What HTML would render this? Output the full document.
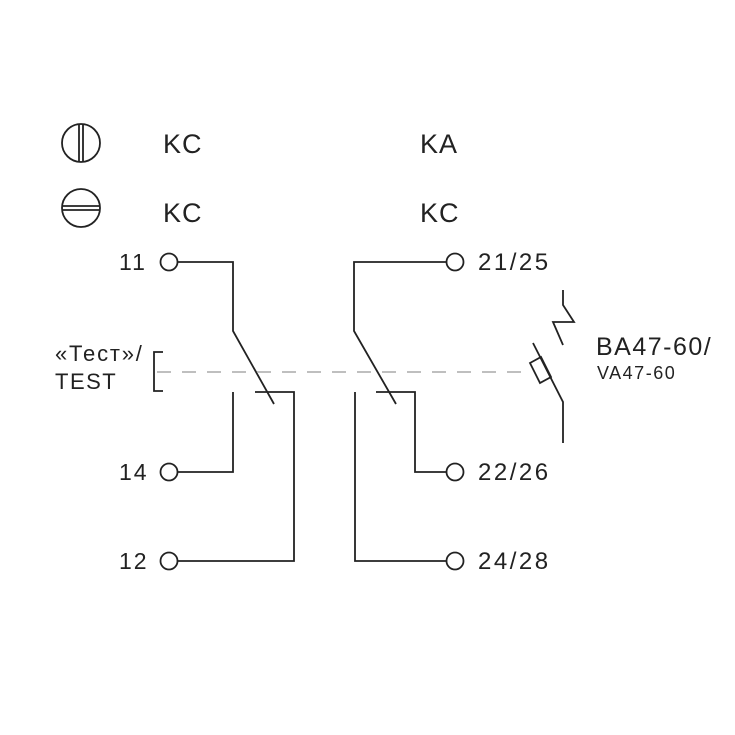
<!DOCTYPE html>
<html><head><meta charset="utf-8"><style>
html,body{margin:0;padding:0;background:#fff;}
svg{display:block;}
text{font-family:"Liberation Sans",sans-serif;fill:#222;}
</style></head><body>
<svg width="735" height="735" viewBox="0 0 735 735" xmlns="http://www.w3.org/2000/svg">
<g fill="none" stroke="#222" stroke-width="1.8">
<circle cx="81" cy="143" r="19"/>
<line x1="79" y1="124" x2="79" y2="162"/><line x1="83" y1="124" x2="83" y2="162"/>
<circle cx="81" cy="208" r="19"/>
<line x1="62" y1="206" x2="100" y2="206"/><line x1="62" y1="210" x2="100" y2="210"/>
<circle cx="169" cy="262" r="8.5"/>
<circle cx="169" cy="472" r="8.5"/>
<circle cx="169" cy="561" r="8.5"/>
<circle cx="455" cy="262" r="8.5"/>
<circle cx="455" cy="472" r="8.5"/>
<circle cx="455" cy="561" r="8.5"/>
<polyline points="177.5,262 233,262 233,331 274,404"/>
<polyline points="255,392 294,392 294,561 177.5,561"/>
<polyline points="233,392 233,472 177.5,472"/>
<polyline points="446.5,262 354,262 354,331 396,404"/>
<polyline points="376,392 415,392 415,472 446.5,472"/>
<polyline points="355,392 355,561 446.5,561"/>
<polyline points="163,352 154,352 154,391 163,391"/>
<polyline points="563,290 563,305 574,322 553,322 563,345"/>
<polyline points="533,343 563,402 563,443"/>
<polygon points="530,363 541,357 551,377 540,383"/>
</g>
<line x1="157" y1="372" x2="531" y2="372" stroke="#aaa" stroke-width="1.6" stroke-dasharray="14,11"/>
<text x="163" y="153" font-size="27" letter-spacing="1">KC</text>
<text x="163" y="222" font-size="27" letter-spacing="1">KC</text>
<text x="420" y="153" font-size="27" letter-spacing="1">KA</text>
<text x="420" y="222" font-size="27" letter-spacing="1">KC</text>
<text x="119" y="270" font-size="23" letter-spacing="2">11</text>
<text x="119" y="480" font-size="23" letter-spacing="2">14</text>
<text x="119" y="569" font-size="23" letter-spacing="2">12</text>
<text x="478" y="270" font-size="24" letter-spacing="2.5">21/25</text>
<text x="478" y="480" font-size="24" letter-spacing="2.5">22/26</text>
<text x="478" y="569" font-size="24" letter-spacing="2.5">24/28</text>
<text x="55" y="361" font-size="22" letter-spacing="1.8">«Тест»/</text>
<text x="55" y="389" font-size="22" letter-spacing="1.5">TEST</text>
<text x="596" y="355" font-size="25" letter-spacing="1.5">BA47-60/</text>
<text x="597" y="379" font-size="18" letter-spacing="1.5">VA47-60</text>
</svg>
</body></html>
